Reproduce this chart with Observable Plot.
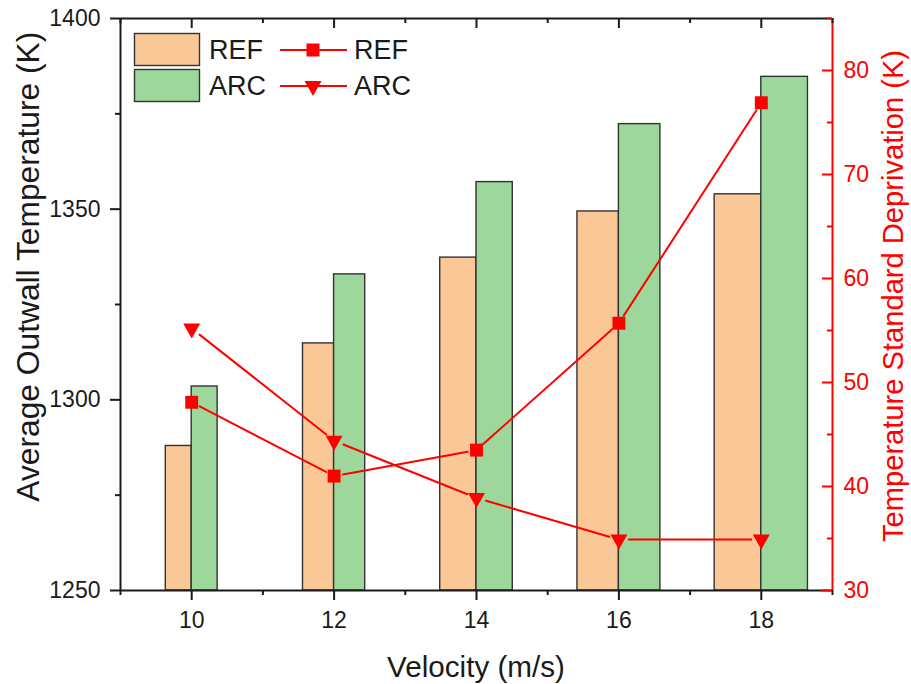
<!DOCTYPE html>
<html><head><meta charset="utf-8">
<script src="https://cdn.jsdelivr.net/npm/d3@7"></script>
<script src="https://cdn.jsdelivr.net/npm/@observablehq/plot@0.6"></script>
<style>
body{margin:0;background:#fff;}
#wrap{position:relative;width:911px;height:684px;}
#wrap svg{position:absolute;left:0;top:0;}
</style></head><body><div id="wrap"></div>
<script>
// ---- data ----
const velocity = [10, 12, 14, 16, 18];
const refTemp = [1287.9, 1314.8, 1337.3, 1349.4, 1353.9];
const arcTemp = [1303.5, 1332.9, 1357.1, 1372.3, 1384.7];
const refStd = [48.1, 41.0, 43.5, 55.7, 76.9];
const arcStd = [55.2, 44.4, 38.9, 34.9, 34.9];
const seriesNames = ["REF", "ARC"];
const xTicks = [10, 12, 14, 16, 18];
const xMinor = [9, 11, 13, 15, 17, 19];
const yTicks = [1250, 1300, 1350, 1400];
const yMinor = [1275, 1325, 1375];
const y2Ticks = [30, 40, 50, 60, 70, 80];
const y2Minor = [35, 45, 55, 65, 75, 85];
const xTitle = "Velocity (m/s)";
const yTitle = "Average Outwall Temperature (K)";
const y2Title = "Temperature Standard Deprivation (K)";

// ---- styles ----
const FONT = "'Liberation Sans', Arial, Helvetica, sans-serif";
const C_REF = "#FAC896", C_ARC = "#9DD79B", C_EDGE = "#333333", RED = "#ff0000", INK = "#1a1a1a";
const BW = 0.0364; // relative bar width
const Y0 = 1250, Y1 = 1400, R0 = 30, R1 = 85;
const toLeft = v => Y0 + (v - R0) * (Y1 - Y0) / (R1 - R0);

const refBars = velocity.map((x, i) => ({x, v: refTemp[i]}));
const arcBars = velocity.map((x, i) => ({x, v: arcTemp[i]}));
const pts = s => velocity.map((x, i) => ({x, y: toLeft(s[i])}));
const segs = s => velocity.slice(1).map((x, i) => ({x1: velocity[i], y1: toLeft(s[i]), x2: x, y2: toLeft(s[i + 1])}));
const triDown = {draw(ctx) { ctx.moveTo(-8.5, -5); ctx.lineTo(8.5, -5); ctx.lineTo(0, 10); ctx.closePath(); }};

const chart = Plot.plot({
  width: 911, height: 684,
  marginLeft: 120, marginRight: 79, marginTop: 18, marginBottom: 94,
  style: {fontFamily: FONT, fontSize: "23px", color: INK, background: "transparent", overflow: "visible"},
  x: {domain: [9, 19]},
  y: {domain: [Y0, Y1]},
  marks: [
    Plot.rect(refBars, {x1: d => d.x * (1 - BW), x2: "x", y1: () => Y0, y2: "v", fill: C_REF, stroke: C_EDGE, strokeWidth: 1.4}),
    Plot.rect(arcBars, {x1: "x", x2: d => d.x * (1 + BW), y1: () => Y0, y2: "v", fill: C_ARC, stroke: C_EDGE, strokeWidth: 1.4}),
    Plot.arrow(segs(refStd), {x1: "x1", y1: "y1", x2: "x2", y2: "y2", headLength: 0, inset: 9, stroke: RED, strokeWidth: 2}),
    Plot.arrow(segs(arcStd), {x1: "x1", y1: "y1", x2: "x2", y2: "y2", headLength: 0, inset: 10, stroke: RED, strokeWidth: 2}),
    Plot.dot(pts(refStd), {x: "x", y: "y", symbol: "square", r: 7.3, fill: RED, stroke: "none"}),
    Plot.dot(pts(arcStd), {x: "x", y: "y", symbol: triDown, fill: RED, stroke: "none"}),
    // frame
    Plot.ruleY([Y0], {stroke: INK, strokeWidth: 2}),
    Plot.ruleY([Y1], {stroke: INK, strokeWidth: 2}),
    Plot.ruleX([9], {stroke: INK, strokeWidth: 2}),
    Plot.ruleX([19], {stroke: RED, strokeWidth: 2}),
    // bottom axis
    Plot.axisX({ticks: xTicks, tickSize: 10, tickPadding: 11, strokeWidth: 2, stroke: INK, fill: INK, fontSize: 23}),
    Plot.axisX({ticks: xMinor, tickSize: 5, tickFormat: () => "", strokeWidth: 2, stroke: INK}),
    // top inward ticks
    Plot.ruleX(xTicks, {x: d => d, y1: () => Y1, y2: () => Y1, insetBottom: -10, stroke: INK, strokeWidth: 2}),
    Plot.ruleX(xMinor, {x: d => d, y1: () => Y1, y2: () => Y1, insetBottom: -5, stroke: INK, strokeWidth: 2}),
    // left axis
    Plot.axisY({ticks: yTicks, tickSize: 10, tickPadding: 10, strokeWidth: 2, stroke: INK, fill: INK, fontSize: 23, tickFormat: d => String(d)}),
    Plot.axisY({ticks: yMinor, tickSize: 5, tickFormat: () => "", strokeWidth: 2, stroke: INK}),
    // right axis (inward ticks)
    Plot.ruleY(y2Ticks.map(toLeft), {y: d => d, x1: () => 19, x2: () => 19, insetLeft: -10, stroke: RED, strokeWidth: 2}),
    Plot.ruleY(y2Minor.map(toLeft), {y: d => d, x1: () => 19, x2: () => 19, insetLeft: -5, stroke: RED, strokeWidth: 2}),
    Plot.text(y2Ticks, {y: d => toLeft(d), text: d => String(d), frameAnchor: "right", dx: 11, textAnchor: "start", fill: RED, fontSize: 23})
  ]
});
document.getElementById("wrap").appendChild(chart);

// ---- overlay: legend and axis titles ----
const ov = d3.select("#wrap").append("svg")
  .attr("width", 911).attr("height", 684)
  .style("font-family", FONT).style("pointer-events", "none");

const legendRows = [34, 70];
const barColors = [C_REF, C_ARC];
seriesNames.forEach((name, i) => {
  const top = legendRows[i];
  ov.append("rect").attr("x", 134.5).attr("y", top - 0.5).attr("width", 65).attr("height", 32)
    .attr("fill", barColors[i]).attr("stroke", C_EDGE).attr("stroke-width", 1.4);
  ov.append("text").attr("x", 209).attr("y", top + 24.5).attr("font-size", 27).attr("fill", INK).text(name);
  const cy = top + 16;
  ov.append("line").attr("x1", 280).attr("x2", 347).attr("y1", cy).attr("y2", cy)
    .attr("stroke", RED).attr("stroke-width", 2);
  if (i === 0) {
    ov.append("rect").attr("x", 313 - 6.5).attr("y", cy - 6.5).attr("width", 13).attr("height", 13).attr("fill", RED);
  } else {
    ov.append("path").attr("d", `M${313 - 8.5},${cy - 5}L${313 + 8.5},${cy - 5}L313,${cy + 10}Z`).attr("fill", RED);
  }
  ov.append("text").attr("x", 354).attr("y", top + 24.5).attr("font-size", 27).attr("fill", INK).text(name);
});

ov.append("text").attr("x", 476).attr("y", 676.5).attr("text-anchor", "middle")
  .attr("font-size", 30).attr("fill", INK)
  .attr("textLength", 178).attr("lengthAdjust", "spacingAndGlyphs").text(xTitle);
ov.append("text").attr("transform", "translate(38.5,266.7) rotate(-90)").attr("text-anchor", "middle")
  .attr("font-size", 31).attr("fill", INK)
  .attr("textLength", 470).attr("lengthAdjust", "spacingAndGlyphs").text(yTitle);
ov.append("text").attr("transform", "translate(903,296) rotate(-90)").attr("text-anchor", "middle")
  .attr("font-size", 29).attr("fill", RED)
  .attr("textLength", 492).attr("lengthAdjust", "spacingAndGlyphs").text(y2Title);
</script>
</body></html>
